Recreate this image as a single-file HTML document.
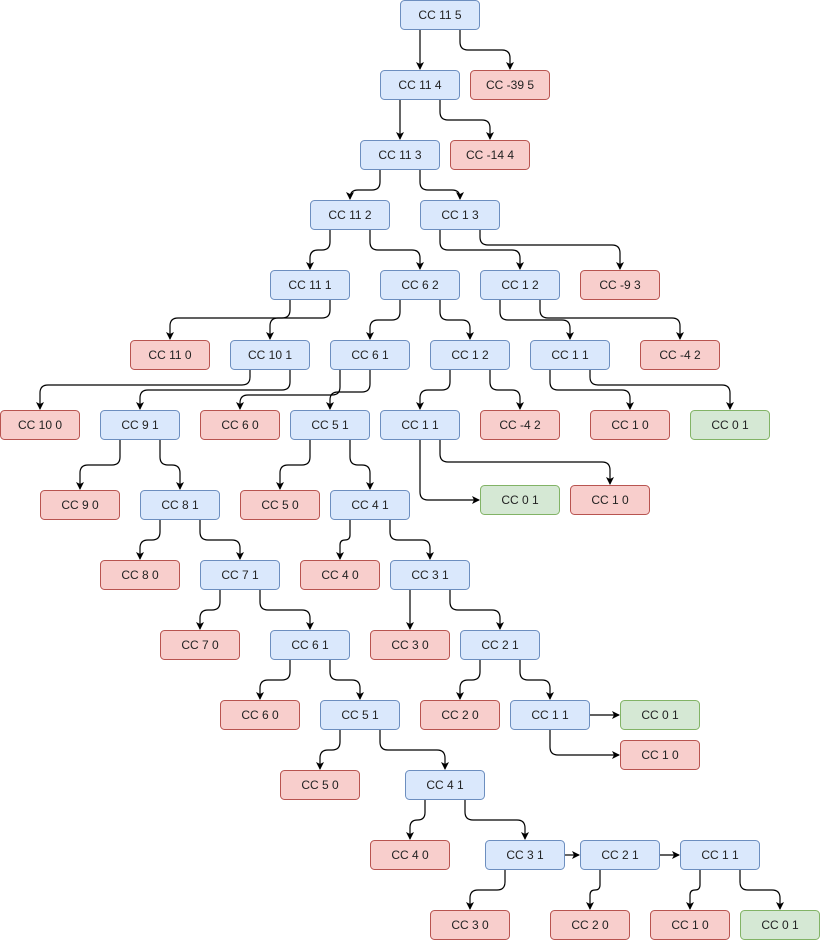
<!DOCTYPE html>
<html><head><meta charset="utf-8"><style>
html,body{margin:0;padding:0;background:#fff;width:821px;height:942px;overflow:hidden}
svg{display:block}
text{font-family:"Liberation Sans",Arial,sans-serif;font-size:12px;fill:#222}
</style></head><body>
<svg id="s" width="821" height="942" xmlns="http://www.w3.org/2000/svg">
<defs><marker id="a" markerWidth="10" markerHeight="10" refX="7" refY="4" orient="auto" markerUnits="userSpaceOnUse"><path d="M0,0 L8,4 L0,8 L2,4 Z" fill="#000"/></marker></defs>
<g id="e" fill="none" stroke="#000" stroke-width="1.2"></g>
<g id="n"></g>
</svg>
<script>
var B=['#dae8fc','#6c8ebf'],R=['#f8cecc','#b85450'],G=['#d5e8d4','#82b366'];
var nodes=[
[400,0,'CC 11 5',B],[380,70,'CC 11 4',B],[470,70,'CC -39 5',R],
[360,140,'CC 11 3',B],[450,140,'CC -14 4',R],
[310,200,'CC 11 2',B],[420,200,'CC 1 3',B],
[270,270,'CC 11 1',B],[380,270,'CC 6 2',B],[480,270,'CC 1 2',B],[580,270,'CC -9 3',R],
[130,340,'CC 11 0',R],[230,340,'CC 10 1',B],[330,340,'CC 6 1',B],[430,340,'CC 1 2',B],[530,340,'CC 1 1',B],[640,340,'CC -4 2',R],
[0,410,'CC 10 0',R],[100,410,'CC 9 1',B],[200,410,'CC 6 0',R],[290,410,'CC 5 1',B],[380,410,'CC 1 1',B],[480,410,'CC -4 2',R],[590,410,'CC 1 0',R],[690,410,'CC 0 1',G],
[40,490,'CC 9 0',R],[140,490,'CC 8 1',B],[240,490,'CC 5 0',R],[330,490,'CC 4 1',B],[480,485,'CC 0 1',G],[570,485,'CC 1 0',R],
[100,560,'CC 8 0',R],[200,560,'CC 7 1',B],[300,560,'CC 4 0',R],[390,560,'CC 3 1',B],
[160,630,'CC 7 0',R],[270,630,'CC 6 1',B],[370,630,'CC 3 0',R],[460,630,'CC 2 1',B],
[220,700,'CC 6 0',R],[320,700,'CC 5 1',B],[420,700,'CC 2 0',R],[510,700,'CC 1 1',B],[620,700,'CC 0 1',G],
[620,740,'CC 1 0',R],[280,770,'CC 5 0',R],[405,770,'CC 4 1',B],
[370,840,'CC 4 0',R],[485,840,'CC 3 1',B],[580,840,'CC 2 1',B],[680,840,'CC 1 1',B],
[430,910,'CC 3 0',R],[550,910,'CC 2 0',R],[650,910,'CC 1 0',R],[740,910,'CC 0 1',G]];
var ng=document.getElementById('n'),eg=document.getElementById('e'),h='';
nodes.forEach(function(n){h+='<rect x="'+(n[0]+0.5)+'" y="'+(n[1]+0.5)+'" width="79" height="29" rx="4" fill="'+n[3][0]+'" stroke="'+n[3][1]+'"/><text x="'+(n[0]+40)+'" y="'+(n[1]+19)+'" text-anchor="middle">'+n[2]+'</text>';});
ng.innerHTML=h;
var E=[[420,30,50,420,70],[460,30,50,510,70],[400,100,120,400,140],[440,100,120,490,140],
[380,170,190,350,200],[420,170,190,460,200],[330,230,250,310,270],[370,230,250,420,270],
[440,230,250,520,270],[480,230,245,620,270],[290,300,318,170,340],[330,300,318,270,340],
[400,300,320,370,340],[440,300,320,470,340],[500,300,320,570,340],[540,300,318,680,340],
[250,370,385,40,410],[290,370,390,140,410],[340,370,395,240,410],[370,370,392,330,410],
[450,370,390,420,410],[490,370,390,520,410],[550,370,390,630,410],[590,370,385,730,410],
[120,440,465,80,490],[160,440,465,180,490],[310,440,465,280,490],[350,440,465,370,490],
[440,440,462,610,485],[160,520,540,140,560],[200,520,540,240,560],[350,520,540,340,560],[390,520,540,430,560],
[220,590,610,200,630],[260,590,610,310,630],[410,590,610,410,630],[450,590,610,500,630],
[290,660,680,260,700],[330,660,680,360,700],[480,660,680,460,700],[520,660,680,550,700],
[340,730,750,320,770],[380,730,750,445,770],[425,800,820,410,840],[465,800,820,525,840],
[505,870,890,470,910],[600,870,890,590,910],[700,870,890,690,910],[740,870,890,780,910]];
var p='';
function seg(sx,sy,m,tx,ty){var r=Math.min(8,Math.abs(tx-sx)/2),d=tx>sx?1:-1;
if(tx==sx)return 'M'+sx+','+sy+' L'+tx+','+(ty-1);
return 'M'+sx+','+sy+' L'+sx+','+(m-r)+' Q'+sx+','+m+' '+(sx+d*r)+','+m+' L'+(tx-d*r)+','+m+' Q'+tx+','+m+' '+tx+','+(m+r)+' L'+tx+','+(ty-1);}
E.forEach(function(e){p+='<path d="'+seg(e[0],e[1],e[2],e[3],e[4])+'" marker-end="url(#a)"/>';});
p+='<path d="M420,440 L420,492 Q420,500 428,500 L479,500" marker-end="url(#a)"/>';
p+='<path d="M590,715 L619,715" marker-end="url(#a)"/>';
p+='<path d="M550,730 L550,747 Q550,755 558,755 L619,755" marker-end="url(#a)"/>';
p+='<path d="M565,855 L579,855" marker-end="url(#a)"/>';
p+='<path d="M660,855 L679,855" marker-end="url(#a)"/>';
eg.innerHTML=p;
</script>
</body></html>
